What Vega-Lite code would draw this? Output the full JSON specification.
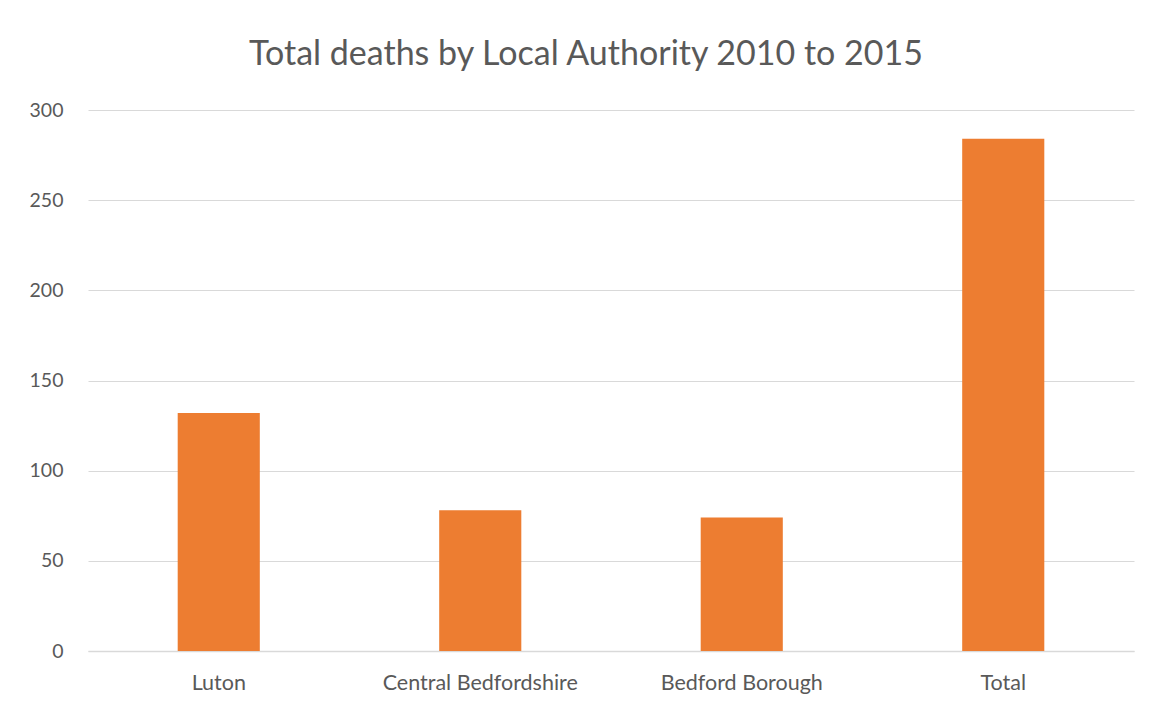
{
  "$schema": "https://vega.github.io/schema/vega-lite/v6.json",
  "autosize": "none",
  "width": 1046,
  "height": 541,
  "padding": {"left": 88, "top": 110, "right": 17, "bottom": 55},
  "background": "white",
  "config": {"view": {"stroke": null}, "font": "Lato"},
  "title": {
    "text": "Total deaths by Local Authority 2010 to 2015",
    "fontSize": 34,
    "font": "Lato",
    "fontWeight": "normal",
    "color": "#595959",
    "anchor": "middle",
    "dx": -25,
    "offset": 28
  },
  "data": {
    "values": [
      {"area": "Luton", "deaths": 132},
      {"area": "Central Bedfordshire", "deaths": 78},
      {"area": "Bedford Borough", "deaths": 74},
      {"area": "Total", "deaths": 284}
    ]
  },
  "mark": {"type": "bar", "color": "#ED7D31"},
  "encoding": {
    "x": {
      "field": "area",
      "type": "nominal",
      "sort": null,
      "scale": {"paddingInner": 0.686, "paddingOuter": 0.343},
      "axis": {
        "title": null,
        "labelAngle": 0,
        "labelFontSize": 21.5,
        "labelLimit": 0,
        "labelColor": "#595959",
        "labelPadding": 21,
        "ticks": false,
        "domainColor": "#D9D9D9",
        "domainWidth": 1.5
      }
    },
    "y": {
      "field": "deaths",
      "type": "quantitative",
      "scale": {"domain": [0, 300]},
      "axis": {
        "title": null,
        "values": [0, 50, 100, 150, 200, 250, 300],
        "labelFontSize": 19.5,
        "labelColor": "#595959",
        "labelPadding": 25,
        "ticks": false,
        "domain": false,
        "gridColor": "#D9D9D9",
        "gridWidth": 1.2
      }
    }
  }
}
